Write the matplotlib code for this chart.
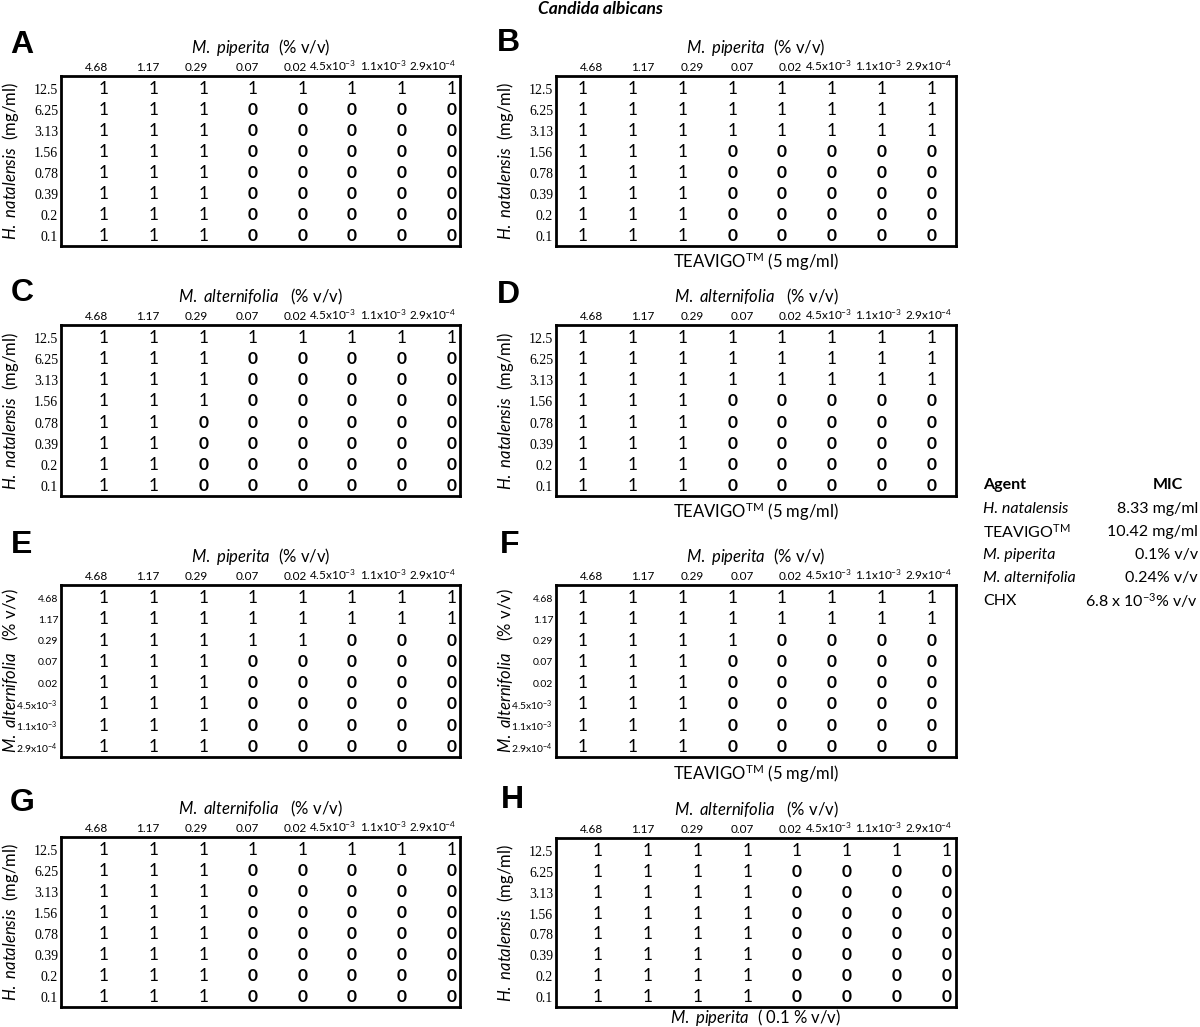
import matplotlib
matplotlib.use("Agg")
import matplotlib.pyplot as plt

plt.rcParams['font.family'] = ['Lato', 'DejaVu Sans']
plt.rcParams['mathtext.fontset'] = 'custom'
plt.rcParams['mathtext.rm'] = 'Lato'
plt.rcParams['mathtext.it'] = 'Lato:italic'
plt.rcParams['mathtext.bf'] = 'Lato:bold'
plt.rcParams['mathtext.default'] = 'regular'

# ---------------- data ----------------
title = "Candida albicans"
col_labels = ["4.68", "1.17", "0.29", "0.07", "0.02",
              "4.5x10$^{-3}$", "1.1x10$^{-3}$", "2.9x10$^{-4}$"]
hn_rows = ["12.5", "6.25", "3.13", "1.56", "0.78", "0.39", "0.2", "0.1"]
ma_rows = ["4.68", "1.17", "0.29", "0.07", "0.02",
           "4.5x10$^{-3}$", "1.1x10$^{-3}$", "2.9x10$^{-4}$"]

grid_A = [[1, 1, 1, 1, 1, 1, 1, 1],
          [1, 1, 1, 0, 0, 0, 0, 0],
          [1, 1, 1, 0, 0, 0, 0, 0],
          [1, 1, 1, 0, 0, 0, 0, 0],
          [1, 1, 1, 0, 0, 0, 0, 0],
          [1, 1, 1, 0, 0, 0, 0, 0],
          [1, 1, 1, 0, 0, 0, 0, 0],
          [1, 1, 1, 0, 0, 0, 0, 0]]
grid_B = [[1, 1, 1, 1, 1, 1, 1, 1],
          [1, 1, 1, 1, 1, 1, 1, 1],
          [1, 1, 1, 1, 1, 1, 1, 1],
          [1, 1, 1, 0, 0, 0, 0, 0],
          [1, 1, 1, 0, 0, 0, 0, 0],
          [1, 1, 1, 0, 0, 0, 0, 0],
          [1, 1, 1, 0, 0, 0, 0, 0],
          [1, 1, 1, 0, 0, 0, 0, 0]]
grid_C = [[1, 1, 1, 1, 1, 1, 1, 1],
          [1, 1, 1, 0, 0, 0, 0, 0],
          [1, 1, 1, 0, 0, 0, 0, 0],
          [1, 1, 1, 0, 0, 0, 0, 0],
          [1, 1, 0, 0, 0, 0, 0, 0],
          [1, 1, 0, 0, 0, 0, 0, 0],
          [1, 1, 0, 0, 0, 0, 0, 0],
          [1, 1, 0, 0, 0, 0, 0, 0]]
grid_D = [[1, 1, 1, 1, 1, 1, 1, 1],
          [1, 1, 1, 1, 1, 1, 1, 1],
          [1, 1, 1, 1, 1, 1, 1, 1],
          [1, 1, 1, 0, 0, 0, 0, 0],
          [1, 1, 1, 0, 0, 0, 0, 0],
          [1, 1, 1, 0, 0, 0, 0, 0],
          [1, 1, 1, 0, 0, 0, 0, 0],
          [1, 1, 1, 0, 0, 0, 0, 0]]
grid_E = [[1, 1, 1, 1, 1, 1, 1, 1],
          [1, 1, 1, 1, 1, 1, 1, 1],
          [1, 1, 1, 1, 1, 0, 0, 0],
          [1, 1, 1, 0, 0, 0, 0, 0],
          [1, 1, 1, 0, 0, 0, 0, 0],
          [1, 1, 1, 0, 0, 0, 0, 0],
          [1, 1, 1, 0, 0, 0, 0, 0],
          [1, 1, 1, 0, 0, 0, 0, 0]]
grid_F = [[1, 1, 1, 1, 1, 1, 1, 1],
          [1, 1, 1, 1, 1, 1, 1, 1],
          [1, 1, 1, 1, 0, 0, 0, 0],
          [1, 1, 1, 0, 0, 0, 0, 0],
          [1, 1, 1, 0, 0, 0, 0, 0],
          [1, 1, 1, 0, 0, 0, 0, 0],
          [1, 1, 1, 0, 0, 0, 0, 0],
          [1, 1, 1, 0, 0, 0, 0, 0]]
grid_G = [[1, 1, 1, 1, 1, 1, 1, 1],
          [1, 1, 1, 0, 0, 0, 0, 0],
          [1, 1, 1, 0, 0, 0, 0, 0],
          [1, 1, 1, 0, 0, 0, 0, 0],
          [1, 1, 1, 0, 0, 0, 0, 0],
          [1, 1, 1, 0, 0, 0, 0, 0],
          [1, 1, 1, 0, 0, 0, 0, 0],
          [1, 1, 1, 0, 0, 0, 0, 0]]
grid_H = [[1, 1, 1, 1, 1, 1, 1, 1],
          [1, 1, 1, 1, 0, 0, 0, 0],
          [1, 1, 1, 1, 0, 0, 0, 0],
          [1, 1, 1, 1, 0, 0, 0, 0],
          [1, 1, 1, 1, 0, 0, 0, 0],
          [1, 1, 1, 1, 0, 0, 0, 0],
          [1, 1, 1, 1, 0, 0, 0, 0],
          [1, 1, 1, 1, 0, 0, 0, 0]]

mic_agents = ["H. natalensis", "TEAVIGO$^{TM}$", "M. piperita", "M. alternifolia", "CHX"]
mic_italic = [True, False, True, True, False]
mic_values = ["8.33 mg/ml", "10.42 mg/ml", "0.1% v/v", "0.24% v/v", "6.8 x 10$^{-3}$% v/v"]

# ---------------- layout ----------------
W, H = 1200, 1027
fig = plt.figure(figsize=(W / 100, H / 100), dpi=100)


def fx(x):
    return x / W


def fy(y):
    return 1 - y / H


lbl_pos = [0.72, 1.73, 2.72, 3.73, 4.69, 5.45, 6.46, 7.46]

top_titles = {
    "pip": "$\\it{M.\\ piperita}$  (% v/v)",
    "alt": "$\\it{M.\\ alternifolia}$   (% v/v)",
}
teavigo = "TEAVIGO$^{TM}$ (5 mg/ml)"


def panel(box, grid, rows, row_serif, top, ylab, bottom, bottom_y, letter, letter_xy, val_off):
    x0, y0, x1, y1 = box
    ax = fig.add_axes([fx(x0), fy(y1), fx(x1) - fx(x0), (y1 - y0) / H])
    ax.set_xlim(0, 8)
    ax.set_ylim(7.48, -0.62)
    for s in ax.spines.values():
        s.set_linewidth(2.0)
        s.set_color("black")
    ax.set_yticks(range(8))
    if row_serif:
        ax.set_yticklabels(rows, fontsize=10, family=["Liberation Serif"])
    else:
        ax.set_yticklabels(rows, fontsize=7.5)
    ax.set_xticks(lbl_pos)
    ax.set_xticklabels(col_labels, fontsize=8.5)
    ax.xaxis.tick_top()
    ax.tick_params(axis="both", length=0)
    ax.tick_params(axis="x", pad=2)
    ax.tick_params(axis="y", pad=2)
    for r, row in enumerate(grid):
        for c, v in enumerate(row):
            ax.text(val_off + 0.995 * c, r, str(v), ha="center", va="center",
                    fontsize=12.5, fontweight=("bold" if v == 0 else "normal"))
    ax.text(0.5, 1.165, top, transform=ax.transAxes, ha="center", va="center", fontsize=12)
    if bottom is not None:
        ax.text(0.5, bottom_y, bottom, transform=ax.transAxes, ha="center", va="center",
                fontsize=12)
    fig.text(fx(x0 - 50), fy((y0 + y1) / 2), ylab, rotation=90, ha="center", va="center",
             fontsize=12)
    fig.text(fx(letter_xy[0]), fy(letter_xy[1]), letter, ha="center", va="center",
             fontsize=23, fontweight="bold", family=["Liberation Sans", "DejaVu Sans"])
    return ax


ylab_hn = "$\\it{H.\\ natalensis}$  (mg/ml)"
ylab_ma = "$\\it{M.\\ alternifolia}$   (% v/v)"
bottom_H = "$\\it{M.\\ piperita}$  ( 0.1 % v/v)"

panel((61, 76, 460, 246), grid_A, hn_rows, True, top_titles["pip"], ylab_hn, None, 0, "A", (22, 45), 0.86)
panel((556, 76, 956, 246), grid_B, hn_rows, True, top_titles["pip"], ylab_hn, teavigo, -0.095, "B", (508, 43), 0.54)
panel((61, 325, 460, 496), grid_C, hn_rows, True, top_titles["alt"], ylab_hn, None, 0, "C", (22, 293), 0.86)
panel((556, 325, 956, 496), grid_D, hn_rows, True, top_titles["alt"], ylab_hn, teavigo, -0.095, "D", (508, 295), 0.54)
panel((61, 585, 460, 757), grid_E, ma_rows, False, top_titles["pip"], ylab_ma, None, 0, "E", (22, 545), 0.86)
panel((556, 585, 956, 757), grid_F, ma_rows, False, top_titles["pip"], ylab_ma, teavigo, -0.095, "F", (510, 545), 0.54)
panel((61, 837, 460, 1007), grid_G, hn_rows, True, top_titles["alt"], ylab_hn, None, 0, "G", (22, 803), 0.86)
panel((556, 838, 956, 1007), grid_H, hn_rows, True, top_titles["alt"], ylab_hn, bottom_H, -0.06, "H", (512, 800), 0.84)

# title
fig.text(0.5, fy(9), title, ha="center", va="center", fontsize=12.5, fontweight="bold",
         style="italic")

# MIC table
fig.text(fx(983), fy(485), "Agent", ha="left", va="center", fontsize=11.5, fontweight="bold")
fig.text(fx(1168), fy(485), "MIC", ha="center", va="center", fontsize=11.5, fontweight="bold")
for i, (a, it, v) in enumerate(zip(mic_agents, mic_italic, mic_values)):
    yy = 509 + 23 * i
    fig.text(fx(983), fy(yy), a, ha="left", va="center", fontsize=11.5,
             style=("italic" if it else "normal"))
    fig.text(fx(1198), fy(yy), v, ha="right", va="center", fontsize=11.5)

fig.savefig("out.png", dpi=100)
